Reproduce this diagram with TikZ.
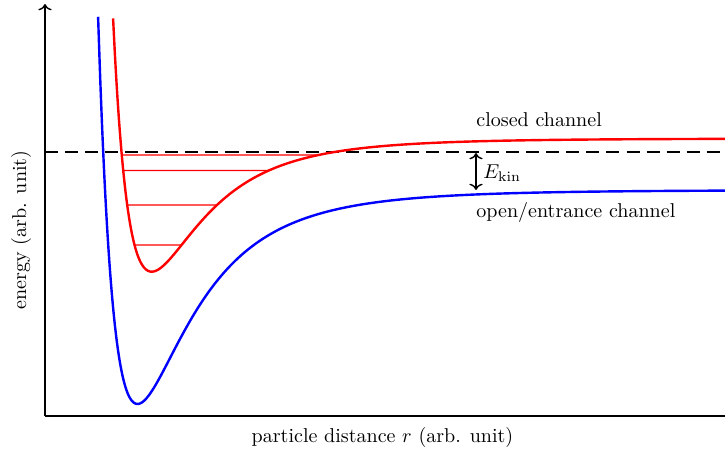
\documentclass[tikz,border=0pt]{standalone}
\usepackage{xcolor}
\usepackage{tikz}
\usetikzlibrary{arrows.meta, intersections}

\begin{document}
\begin{tikzpicture}[
    x=0.4987pt, y=-0.4987pt,
    axis/.style={line width=0.7pt},
    pot/.style={line width=1.2pt, smooth, samples=300},
    level/.style={red, line width=0.6pt},
    chan/.style={inner sep=0pt, anchor=base west},
    declare function={
      openpot(\r)=190+214*(2*(297.5/(\r+160))^6-(297.5/(\r+160))^12);
      closedpot(\r)=138.5+133.2*(2*(287/(\r+135.3))^6-(287/(\r+135.3))^12);
    },
]
\useasboundingbox (0,0) rectangle (725,457);

% axes
\coordinate (origin) at (45,416);
\coordinate (ytop) at (45,4);
\coordinate (xend) at (725,416);
\draw[axis, ->] (origin) -- (ytop);
\draw[axis] (origin) -- (xend);

% threshold
\coordinate (thl) at (45,152);
\coordinate (thr) at (725,152);
\draw[line width=0.8pt, dash pattern=on 6.5pt off 3.5pt] (thl) -- (thr);

% open/entrance channel
\draw[pot, blue] plot[domain=98.1:725] (\x, {openpot(\x)});

% closed channel
\draw[pot, red, name path=closed] plot[domain=113.1:725] (\x, {closedpot(\x)});

% bound states of the closed channel
\foreach \lv [count=\k] in {155,170.5,205,245} {
  \path[name path=cut\k] (100,\lv) -- (400,\lv);
  \draw[level, name intersections={of=closed and cut\k}] (intersection-1) -- (intersection-2);
}

% kinetic energy
\coordinate (ekt) at (476,153);
\coordinate (ekb) at (476,190);
\draw[<->, line width=0.7pt] (ekt) -- node[right, yshift=-1pt] (ekin) {$E_\mathrm{kin}$} (ekb);

\node[chan] (closedlbl) at (476,126.5) {closed channel};
\node[chan] (openlbl) at (476,217) {open/entrance channel};

\node[anchor=base] (xlbl) at (382.5,442.3) {particle distance $r$ (arb. unit)};
\node[rotate=90] (ylbl) at (21,230) {energy (arb. unit)};

\end{tikzpicture}
\end{document}
